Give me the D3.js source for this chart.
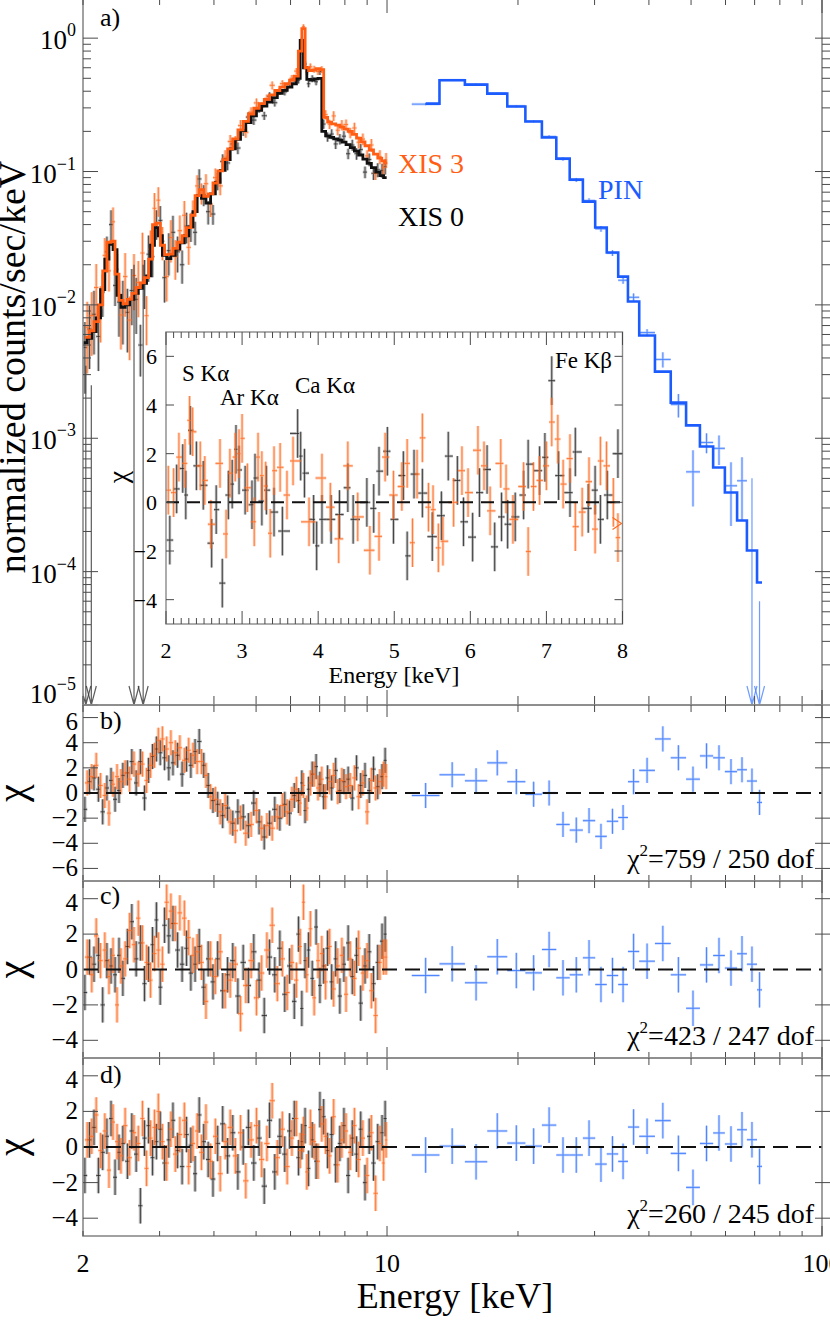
<!DOCTYPE html>
<html>
<head>
<meta charset="utf-8">
<title>XIS + PIN spectrum with residuals</title>
<script src="https://cdn.jsdelivr.net/npm/d3@7"></script>
<style>
body { margin: 0; background: #fff; }
svg text { font-family: "Liberation Serif", "Times New Roman", serif; }
</style>
</head>
<body>
<svg id="chart" width="830" height="1329"></svg>
<script>

// ---- XIS bin centres (keV) ----
var xis0E = [2.02,2.07,2.12,2.17,2.22,2.27,2.32,2.37,2.42,2.47,
             2.53,2.59,2.65,2.71,2.77,2.83,2.89,2.95,3.01,3.08,
             3.15,3.22,3.30,3.38,3.46,3.54,3.62,3.70,3.79,3.88,
             3.98,4.08,4.19,4.30,4.42,4.54,4.67,4.80,4.94,5.08,
             5.22,5.37,5.52,5.67,5.82,5.97,6.12,6.26,6.37,6.48,
             6.60,6.73,6.87,7.01,7.15,7.30,7.46,7.62,7.79,7.96,
             8.14,8.32,8.51,8.70,8.90,9.10,9.31,9.52,9.74,9.90];
var xis3E = [2.045,2.095,2.145,2.195,2.245,2.295,2.345,2.395,2.445,2.50,
             2.56,2.62,2.68,2.74,2.80,2.86,2.92,2.98,3.045,3.115,
             3.185,3.26,3.34,3.42,3.50,3.58,3.66,3.745,3.835,3.93,
             4.03,4.135,4.245,4.36,4.48,4.605,4.735,4.87,5.01,5.15,
             5.295,5.445,5.595,5.745,5.895,6.045,6.19,6.315,6.425,6.54,
             6.665,6.80,6.94,7.08,7.225,7.38,7.54,7.705,7.875,8.05,
             8.23,8.415,8.605,8.80,9.00,9.205,9.415,9.63,9.82,9.95];

// ---- spectrum (counts/sec/keV) ----
var xis0Model = [0.0052,0.0056,0.0063,0.0080,0.0130,0.0220,0.0285,0.0260,0.0118,0.0096,
                 0.0100,0.0110,0.0122,0.0133,0.0145,0.0165,0.0280,0.0380,0.0330,0.0235,
                 0.0222,0.0235,0.0262,0.0292,0.0330,0.0385,0.0500,0.0660,0.0630,0.0580,
                 0.0680,0.0830,0.102,0.123,0.148,0.174,0.203,0.233,0.262,0.287,
                 0.310,0.332,0.358,0.385,0.406,0.430,0.455,0.500,0.960,0.600,
                 0.490,0.485,0.495,0.500,0.200,0.185,0.180,0.176,0.172,0.166,
                 0.159,0.151,0.142,0.133,0.124,0.115,0.107,0.099,0.093,0.090];
var xis3Model = [0.0057,0.0064,0.0075,0.0100,0.0180,0.0295,0.0300,0.0170,0.0108,0.0102,
                 0.0110,0.0122,0.0135,0.0146,0.0160,0.0220,0.0400,0.0410,0.0280,0.0238,
                 0.0240,0.0265,0.0295,0.0330,0.0380,0.0470,0.0660,0.0730,0.0650,0.0680,
                 0.0820,0.101,0.123,0.148,0.176,0.205,0.238,0.270,0.298,0.323,
                 0.348,0.375,0.405,0.430,0.455,0.485,0.520,0.800,1.180,0.600,
                 0.570,0.575,0.590,0.580,0.255,0.235,0.228,0.223,0.215,0.208,
                 0.200,0.190,0.178,0.167,0.156,0.145,0.135,0.126,0.120,0.116];
var xis0Data = [0.0048,0.0066,0.0085,0.0058,0.0125,0.025,0.040,0.014,0.0105,0.0101,
                0.0088,0.0128,0.0110,0.0050,0.0155,0.0240,0.023,0.041,0.043,0.016,
                0.0255,0.035,0.025,0.020,0.039,0.039,0.035,0.088,0.067,0.050,
                0.048,0.085,0.119,0.116,0.161,0.150,0.203,0.256,0.243,0.298,
                0.262,0.367,0.328,0.399,0.396,0.453,0.495,0.483,0.97,0.64,
                0.455,0.497,0.471,0.563,0.227,0.182,0.191,0.161,0.175,0.184,
                0.136,0.158,0.136,0.146,0.099,0.123,0.097,0.103,0.102,0.109];
var xis3Data = [0.0068,0.0083,0.0135,0.0095,0.0235,0.018,0.042,0.0185,0.0084,0.0163,
                0.0077,0.0166,0.0147,0.0245,0.0083,0.0262,0.053,0.061,0.030,0.0163,
                0.032,0.023,0.036,0.047,0.027,0.049,0.078,0.069,0.081,0.057,
                0.090,0.078,0.128,0.168,0.166,0.221,0.197,0.279,0.327,0.306,
                0.353,0.443,0.389,0.456,0.425,0.50,0.566,0.79,1.22,0.558,
                0.61,0.585,0.562,0.582,0.267,0.226,0.261,0.204,0.223,0.225,
                0.195,0.212,0.166,0.175,0.131,0.158,0.097,0.129,0.107,0.122];
// relative 1-sigma error of each XIS bin
var xisErr = [0.55,0.5,0.5,0.45,0.35,0.3,0.28,0.3,0.45,0.5,
              0.5,0.45,0.45,0.42,0.4,0.38,0.3,0.25,0.28,0.35,
              0.35,0.33,0.3,0.28,0.26,0.24,0.2,0.18,0.18,0.2,
              0.17,0.15,0.13,0.12,0.11,0.1,0.09,0.085,0.08,0.075,
              0.07,0.07,0.065,0.06,0.06,0.06,0.055,0.055,0.04,0.05,
              0.06,0.06,0.06,0.06,0.08,0.08,0.085,0.085,0.09,0.09,
              0.09,0.095,0.1,0.1,0.1,0.11,0.11,0.12,0.12,0.13];
// XIS 0 bins shown as upper limits (arrows)
var xis0LimitE = [2.03, 2.09, 2.62, 2.75];
var xis0LimitTop = [0.0035, 0.0025, 0.02, 0.02];

// ---- PIN ----
var pinEdges = [11.4,13.2,15.1,17.0,18.9,20.8,22.7,24.5,26.3,28.2,30.1,32.0,34.0,
                35.8,38.0,41.3,44.9,48.7,52.4,56.2,59.8,63.8,67.2,70.9,72.8];
var pinModel = [0.323,0.483,0.448,0.384,0.307,0.237,0.180,0.125,0.087,0.0595,0.038,0.0247,
                0.0163,0.0106,0.0059,0.00316,0.00185,0.00125,0.000867,0.000603,0.000392,
                0.000242,0.000144,0.0000828];
var pinData = [0.320,0.485,0.450,0.386,0.309,0.238,0.183,0.124,0.0865,0.0605,0.0372,0.0245,
               0.0153,0.0114,0.0062,0.0039,0.00179,0.00056,0.00093,0.00084,0.00044,
               0.00048,0.000245,0.00003];
var pinErr = [0.02,0.015,0.015,0.015,0.02,0.02,0.025,0.03,0.035,0.04,0.05,0.05,
              0.06,0.07,0.06,0.13,0.2,0.45,0.17,0.25,0.5,0.5,1.05,1.0];

// ---- residuals (chi) ----
var xis0ChiB = [-1.3,0.9,1.2,0.3,-1.5,0.4,1.0,-0.5,0.2,1.4,
                1.6,2.5,0.8,2.5,-0.4,1.8,2.9,3.5,3.2,2.8,
                2.0,2.4,3.0,1.5,2.7,2.2,3.3,4.1,2.2,0.6,
                -0.6,-0.9,-1.8,-1.2,-2.4,-1.5,-1.9,-2.6,-0.8,-2.3,
                -3.5,-2.4,-1.3,-2.0,-0.9,-1.6,-0.2,-0.6,0.8,-1.4,
                0.3,1.5,2.1,0.7,-0.3,1.2,0.4,1.8,0.2,0.9,
                1.1,-0.4,2.0,0.6,1.4,0.2,1.9,0.5,1.3,2.6];
var xis3ChiB = [0.8,1.3,2.2,0.6,-0.2,-1.6,0.7,1.3,0.9,1.6,
                1.1,2.3,1.5,2.3,1.0,2.2,3.0,4.2,4.3,3.5,
                4.0,3.2,3.6,2.6,3.4,3.0,2.5,2.5,1.4,-0.3,
                -0.5,-1.5,-1.0,-2.3,-3.0,-2.0,-3.2,-2.5,-1.4,-2.8,
                -2.6,-2.8,-1.9,-1.0,-1.5,-0.5,0.3,-0.8,0.6,-1.2,
                0.8,1.5,0.4,1.1,-0.3,0.9,1.4,0.1,1.0,0.5,
                0.6,1.2,-0.3,0.8,-1.5,1.0,0.4,0.9,1.5,1.3];
var xis0ChiC = [-1.3,0.7,0.3,0.8,-2.0,0.5,0.2,-0.3,0.8,-0.5,
                1.3,2.7,0.6,1.5,-0.8,0.3,1.4,2.8,-1.0,2.5,
                1.9,2.6,1.1,0.3,1.2,-0.2,0.3,1.3,-1.0,0.6,
                -0.7,0.6,-1.2,-0.3,0.5,-1.5,0.4,-0.9,1.0,-0.6,
                -2.6,0.7,-0.3,1.2,-1.4,0.2,-1.8,2.0,-2.2,0.5,
                1.1,-0.5,2.4,-0.9,0.2,1.2,-0.7,0.6,-1.5,0.3,
                1.5,-0.4,0.8,-1.9,0.2,1.0,-0.8,0.4,1.6,2.0];
var xis3ChiC = [0.7,-0.3,1.9,0.5,1.1,-0.4,0.8,-2.0,0.2,0.6,
                2.2,1.4,2.9,1.5,0.4,-0.6,0.9,1.1,0.3,3.8,
                3.3,2.6,3.2,2.9,1.8,0.8,1.0,0.4,-1.8,0.6,
                -0.4,1.0,-1.2,-0.6,0.3,-2.5,-0.9,0.5,-1.6,-0.2,
                1.1,2.5,-0.8,0.6,-1.3,0.4,-0.6,1.3,3.8,-0.3,
                2.3,-1.6,0.5,0.9,-0.7,1.3,-1.1,0.2,0.8,-1.4,
                0.6,-0.5,1.2,-0.2,0.5,-1.2,-2.6,0.4,0.7,0.7];
var xis0ChiD = [-1.6,0.4,1.1,-1.6,-0.3,0.6,1.6,-1.7,-0.3,0.2,
                -0.8,0.9,-0.4,-3.3,0.5,1.2,-0.6,0.3,1.0,-0.9,
                0.4,1.5,-0.2,-1.1,0.7,0.1,-1.5,1.8,0.3,-0.7,
                -1.8,0.2,1.3,-0.5,0.8,-1.4,0.0,1.1,-0.9,0.5,
                -2.2,1.5,-1.4,0.6,-0.4,0.9,1.6,-0.6,0.3,1.2,
                -1.2,0.4,-0.8,2.1,1.7,-0.2,0.7,-1.0,0.2,1.2,
                -1.6,0.5,-0.4,1.0,-2.0,0.6,-0.9,0.3,0.8,1.6];
var xis3ChiD = [0.4,0.6,1.8,-0.2,0.9,-1.3,1.4,0.3,-0.5,1.2,
                -0.6,0.8,0.2,1.6,-1.2,0.5,1.1,2.0,0.3,-0.9,
                1.0,-0.4,0.7,1.5,-1.1,0.2,0.9,-0.3,1.4,-0.8,
                0.6,-1.5,0.3,1.1,-0.5,0.8,-1.9,0.4,1.2,-0.7,
                0.2,2.6,-0.6,1.0,-1.1,0.5,1.6,-0.2,0.7,-1.4,
                1.1,0.3,-0.8,1.3,0.6,-0.5,1.7,-1.0,0.4,0.9,
                -0.3,1.2,-0.7,0.5,-1.6,0.8,-2.6,0.2,-0.9,0.4];
var pinChiB = [-0.2,1.45,0.97,2.4,0.9,-0.1,0.0,-2.5,-2.95,-2.2,-3.45,-2.25,
               -1.95,0.9,1.8,4.3,2.8,1.1,2.95,2.8,1.7,1.85,0.95,-0.75];
var pinChiC = [-0.34,0.32,-0.75,0.72,-0.06,-0.19,1.13,-0.47,-0.3,0.66,-0.85,-0.34,
               -0.85,1.02,0.47,1.47,-0.3,-2.19,0.26,0.79,0.08,0.89,0.3,-1.15];
var pinChiD = [-0.45,0.05,-0.83,0.9,0.22,0.05,1.23,-0.45,-0.45,0.5,-0.96,-0.39,
               -0.81,1.12,0.6,1.48,-0.36,-2.27,0.2,0.79,0.17,0.97,0.41,-1.09];

// ---- inset residuals (2-8 keV, linear) ----
var inset0E = [2.05,2.14,2.22,2.26,2.32,2.40,2.49,2.60,2.66,2.74,2.82,2.87,2.92,2.96,3.04,
               3.13,3.17,3.26,3.32,3.42,3.53,3.73,3.77,3.82,3.94,3.98,4.05,4.17,4.28,4.39,
               4.46,4.64,4.73,4.80,4.91,4.99,5.12,5.17,5.26,5.37,5.50,5.62,5.71,5.83,5.91,
               6.03,6.12,6.22,6.32,6.41,6.49,6.59,6.70,6.76,6.91,6.98,7.07,7.16,7.31,7.38,
               7.55,7.64,7.71,7.80,7.94];
var inset0Chi = [-1.55,0.55,1.39,0.3,2.96,1.5,0.7,-1.68,-0.3,-3.32,0.3,0.75,2.18,1.33,0.5,
                 -0.1,1.0,0.05,0.5,-0.4,-1.18,2.83,1.9,1.2,-0.7,-1.79,-0.7,-0.7,-0.5,0.6,
                 -0.7,0.0,-0.25,1.28,2.1,-0.7,1.1,-2.2,1.16,0.38,-1.41,-0.55,1.9,0.9,-0.8,
                 -1.43,0.4,1.35,-1.83,-0.6,-0.9,-0.6,0.3,1.57,1.3,1.85,5.0,1.1,0.4,2.07,
                 -0.25,0.5,-0.7,0.3,2.0];
var inset3E = [2.03,2.10,2.17,2.25,2.31,2.35,2.45,2.51,2.59,2.71,2.79,2.84,2.91,2.96,3.00,
               3.07,3.16,3.21,3.26,3.31,3.37,3.42,3.50,3.59,3.67,3.88,4.05,4.16,4.27,4.39,
               4.52,4.68,4.80,4.88,4.99,5.10,5.17,5.24,5.30,5.37,5.45,5.51,5.58,5.64,5.78,
               5.89,5.97,6.10,6.18,6.26,6.40,6.47,6.56,6.70,6.76,6.83,6.91,7.00,7.07,7.15,
               7.22,7.31,7.38,7.47,7.56,7.64,7.71,7.79,7.88,7.94];
var inset3Chi = [0.5,0.4,1.86,1.6,3.37,2.9,1.5,0.9,-0.9,1.6,-1.3,1.2,1.86,2.0,2.63,
                 0.6,-0.8,1.86,1.1,0.67,-1.27,1.3,1.44,0.3,1.7,-0.8,1.0,-0.2,-1.5,1.5,
                 -0.6,-1.97,-1.4,1.86,0.3,0.65,1.6,-1.66,1.16,2.65,-0.2,-0.3,-1.87,-1.6,0.0,
                 1.3,0.4,2.14,1.5,-0.35,1.6,0.55,-0.7,0.65,-2.02,0.65,0.9,1.5,3.3,2.6,
                 0.75,1.8,-1.0,-0.4,0.85,-1.1,1.7,1.5,0.0,-1.45];
var inset3OffScale = -0.87;   // XIS 3 point beyond the right edge of the inset

// ---- axes text ----
var xTickValues = [2,3,4,5,6,7,8,9,10,20,30,40,50,60,70,80,90,100];
var xTickLabels = [2, 10, 100];
var decades = [0,-1,-2,-3,-4,-5];
var lineNames = ['S K\u03b1','Ar K\u03b1','Ca K\u03b1','Fe K\u03b2'];
var chiSq = [759, 423, 260];
var dof = [250, 247, 245];
var panelLetters = ['a)','b)','c)','d)'];

// ---------------------------------------------------------------
var svg = d3.select('#chart');
var X0 = 83, X1 = 822;
var x = d3.scaleLog().domain([2, 100]).range([X0, X1]);
var yA = d3.scaleLog().domain([1e-5, 2]).range([705, -2]);

var col = { black: '#262626', orange: '#ff6a1f', orangeLine: '#ff5e14', blue: '#1c5cff', bluePt: '#3f7bff' };
var frameColor = '#8a8a8a', tickColor = '#4a4a4a';

// geometric (log) or arithmetic bin edges from the centres
function binEdges(E, linear) {
  var mids = [];
  for (var i = 0; i < E.length - 1; i++) mids.push(linear ? (E[i] + E[i+1]) / 2 : Math.sqrt(E[i] * E[i+1]));
  var first = linear ? 2 * E[0] - mids[0] : E[0] * E[0] / mids[0];
  var n = E.length - 1;
  var last = linear ? 2 * E[n] - mids[n-1] : E[n] * E[n] / mids[n-1];
  return { lo: [first].concat(mids), hi: mids.concat([last]) };
}

// each cross drawn twice: a soft wide stroke and a thin core
function drawCrosses(parent, pts, color, wide, softOp, coreOp) {
  var g = parent.append('g').attr('stroke', color).attr('fill', 'none');
  [[wide, softOp], [1, coreOp]].forEach(function (L) {
    g.append('g').attr('stroke-width', L[0]).attr('stroke-opacity', L[1])
      .selectAll('path').data(pts).enter().append('path')
      .attr('d', function (p) {
        return 'M' + p.x + ',' + p.y0 + 'V' + p.y1 + 'M' + p.xa + ',' + p.y + 'H' + p.xb;
      });
  });
}

function drawArrow(parent, px, yTop, yBot, color, op) {
  parent.append('path')
    .attr('d', 'M' + px + ',' + yTop + 'V' + yBot + 'M' + (px - 5) + ',' + (yBot - 19) + 'L' + px + ',' + yBot + 'L' + (px + 5) + ',' + (yBot - 19))
    .attr('stroke', color).attr('stroke-width', 1.2).attr('stroke-opacity', op).attr('fill', 'none');
}

var defs = svg.append('defs');
function clipRect(id, x0, y0, w, h) {
  defs.append('clipPath').attr('id', id).append('rect').attr('x', x0).attr('y', y0).attr('width', w).attr('height', h);
  return 'url(#' + id + ')';
}

// x ticks on top and bottom of a panel
function xTicks(top, bottom, minT, majT, minB, majB) {
  var g = svg.append('g').attr('stroke', tickColor).attr('stroke-width', 1);
  xTickValues.forEach(function (t) {
    var px = x(t), major = (t === 10 || t === 100);
    g.append('line').attr('x1', px).attr('x2', px).attr('y1', top).attr('y2', top + (major ? majT : minT));
    g.append('line').attr('x1', px).attr('x2', px).attr('y1', bottom).attr('y2', bottom - (major ? majB : minB));
  });
}

var e0 = binEdges(xis0E), e3 = binEdges(xis3E);

// ================= panel a: spectrum =================
var aTop = -2, aBot = 705;
var gA = svg.append('g').attr('clip-path', clipRect('clipA', X0, aTop, X1 - X0, aBot - aTop));

function specPoints(E, edges, data, err) {
  return E.map(function (e, i) {
    var v = data[i];
    return { x: x(e), xa: x(edges.lo[i]), xb: x(edges.hi[i]), y: yA(v),
             y0: yA(v * (1 + err[i])), y1: yA(Math.max(v * (1 - err[i]), 1e-5)) };
  });
}
drawCrosses(gA, specPoints(xis0E, e0, xis0Data, xisErr), col.black, 3, 0.3, 0.75);
drawCrosses(gA, specPoints(xis3E, e3, xis3Data, xisErr), col.orange, 3, 0.35, 0.8);

xis0LimitE.forEach(function (e, i) { drawArrow(gA, x(e), yA(xis0LimitTop[i]), aBot, '#333', 0.8); });

function stepLine(E, edges, vals) {
  var pts = [[edges.lo[0], vals[0]]];
  E.forEach(function (e, i) { pts.push([e, vals[i]]); });
  pts.push([edges.hi[E.length - 1], vals[vals.length - 1]]);
  return d3.line().x(function (d) { return x(d[0]); }).y(function (d) { return yA(d[1]); }).curve(d3.curveStep)(pts);
}
gA.append('path').attr('d', stepLine(xis0E, e0, xis0Model))
  .attr('fill', 'none').attr('stroke', '#111').attr('stroke-width', 2.8);
gA.append('path').attr('d', stepLine(xis3E, e3, xis3Model))
  .attr('fill', 'none').attr('stroke', col.orangeLine).attr('stroke-width', 2.8);

// PIN
var pinCentre = pinData.map(function (d, i) { return Math.sqrt(pinEdges[i] * pinEdges[i + 1]); });
var pinPts = pinData.map(function (v, i) {
  return { x: x(pinCentre[i]), xa: x(pinEdges[i]), xb: x(pinEdges[i + 1]), y: yA(v),
           y0: yA(v * (1 + pinErr[i])), y1: yA(Math.max(v * (1 - pinErr[i]), 1e-5)) };
});
drawCrosses(gA, pinPts.filter(function (p, i) { return pinErr[i] < 1; }), col.bluePt, 2.6, 0.3, 0.85);
pinData.forEach(function (v, i) {
  if (pinErr[i] >= 1) drawArrow(gA, x(pinCentre[i]), yA(v * (1 + pinErr[i])), aBot, col.bluePt, 0.75);
});
var pinStep = [[pinCentre[0], pinModel[0]]];
pinModel.forEach(function (v, i) { if (i > 0) pinStep.push([pinEdges[i], v]); });
pinStep.push([pinEdges[pinEdges.length - 1], pinModel[pinModel.length - 1]]);
gA.append('path')
  .attr('d', d3.line().x(function (d) { return x(d[0]); }).y(function (d) { return yA(d[1]); }).curve(d3.curveStepAfter)(pinStep))
  .attr('fill', 'none').attr('stroke', col.blue).attr('stroke-width', 2.6);

// frame + ticks of panel a
svg.append('rect').attr('x', X0).attr('y', aTop).attr('width', X1 - X0).attr('height', aBot - aTop)
  .attr('fill', 'none').attr('stroke', frameColor).attr('stroke-width', 1.6);
xTicks(aTop, aBot, 7, 15, 9, 15);
var gYA = svg.append('g').attr('stroke', tickColor).attr('stroke-width', 1);
decades.forEach(function (p) {
  for (var m = 1; m <= 9; m++) {
    var v = m * Math.pow(10, p);
    if (v > 2 || v < 1e-5) continue;
    var py = yA(v), major = (m === 1);
    gYA.append('line').attr('x1', X0).attr('x2', X0 + (major ? 15 : 8)).attr('y1', py).attr('y2', py);
    gYA.append('line').attr('x1', major ? X1 - 7 : X1).attr('x2', X1 + 8).attr('y1', py).attr('y2', py);
  }
  // the bottom label sits just above the panel edge
  var base = p === -5 ? yA(1e-5) - 2 : yA(Math.pow(10, p)) + 11;
  var lab = svg.append('text').attr('x', 76).attr('y', base)
    .attr('text-anchor', 'end').attr('font-size', 27).text('10');
  lab.append('tspan').attr('dy', -13).attr('font-size', 18).text(p === 0 ? '0' : '\u2212' + (-p));
});
svg.append('text').attr('transform', 'translate(25,367) rotate(-90)').attr('text-anchor', 'middle')
  .attr('font-size', 38).text('normalized counts/sec/keV');

svg.append('text').attr('x', 398).attr('y', 173).attr('font-size', 28).attr('fill', col.orangeLine).text('XIS 3');
svg.append('text').attr('x', 398).attr('y', 226).attr('font-size', 28).attr('fill', '#000').text('XIS 0');
svg.append('text').attr('x', 598).attr('y', 199).attr('font-size', 28).attr('fill', col.blue).text('PIN');

// ================= inset =================
var iL = 166, iR = 622.5, iT = 332, iB = 624;
var xIn = d3.scaleLinear().domain([2, 8]).range([iL, iR]);
var yIn = d3.scaleLinear().domain([-5, 7]).range([iB, iT]);
svg.append('rect').attr('x', iL).attr('y', iT).attr('width', iR - iL).attr('height', iB - iT).attr('fill', '#fff');
var gIn = svg.append('g').attr('clip-path', clipRect('clipIn', iL, iT, iR - iL, iB - iT));
function insetPts(E, chi) {
  var ed = binEdges(E, true);
  return E.map(function (e, i) {
    return { x: xIn(e), xa: xIn(ed.lo[i]), xb: xIn(ed.hi[i]), y: yIn(chi[i]), y0: yIn(chi[i] + 1), y1: yIn(chi[i] - 1) };
  });
}
drawCrosses(gIn, insetPts(inset0E, inset0Chi), col.black, 2.8, 0.3, 0.8);
drawCrosses(gIn, insetPts(inset3E, inset3Chi), col.orange, 2.8, 0.35, 0.8);
gIn.append('path').attr('d', 'M' + (iR - 10) + ',' + (yIn(inset3OffScale) - 6) + 'L' + (iR - 1) + ',' + yIn(inset3OffScale) + 'L' + (iR - 10) + ',' + (yIn(inset3OffScale) + 6))
  .attr('fill', 'none').attr('stroke', col.orange).attr('stroke-width', 1.2);
gIn.append('line').attr('x1', iL).attr('x2', iR).attr('y1', yIn(0)).attr('y2', yIn(0))
  .attr('stroke', '#111').attr('stroke-width', 2).attr('stroke-dasharray', '13,8');
svg.append('rect').attr('x', iL).attr('y', iT).attr('width', iR - iL).attr('height', iB - iT)
  .attr('fill', 'none').attr('stroke', frameColor).attr('stroke-width', 1.4);
var gInT = svg.append('g').attr('stroke', tickColor).attr('stroke-width', 1);
xIn.ticks(60).forEach(function (t) {
  var major = Math.abs(t - Math.round(t)) < 1e-6, len = major ? 13 : 6;
  gInT.append('line').attr('x1', xIn(t)).attr('x2', xIn(t)).attr('y1', iT).attr('y2', iT + len);
  gInT.append('line').attr('x1', xIn(t)).attr('x2', xIn(t)).attr('y1', iB).attr('y2', iB - len);
});
xIn.ticks(6).forEach(function (t) {
  svg.append('text').attr('x', xIn(t)).attr('y', 658).attr('text-anchor', 'middle').attr('font-size', 22).text(t);
});
[-4, -2, 0, 2, 4, 6].forEach(function (t) {
  gInT.append('line').attr('x1', iL).attr('x2', iL + 8).attr('y1', yIn(t)).attr('y2', yIn(t));
  gInT.append('line').attr('x1', iR).attr('x2', iR - 8).attr('y1', yIn(t)).attr('y2', yIn(t));
  svg.append('text').attr('x', 157).attr('y', yIn(t) + 8).attr('text-anchor', 'end').attr('font-size', 22)
    .text(t < 0 ? '\u2212' + (-t) : t);
});
svg.append('text').attr('x', 394).attr('y', 683).attr('text-anchor', 'middle').attr('font-size', 24).text('Energy [keV]');
svg.append('text').attr('transform', 'translate(127,477) rotate(-90)').attr('text-anchor', 'middle').attr('font-size', 28).text('\u03c7');
var linePos = [[182, 381], [220, 405], [295, 393], [555, 368]];
lineNames.forEach(function (t, i) {
  svg.append('text').attr('x', linePos[i][0]).attr('y', linePos[i][1]).attr('font-size', 23).text(t);
});

// ================= residual panels =================
var panels = [
  { top: 705, bottom: 881, dom: [-7, 7], ticks: [-6, -4, -2, 2, 4, 6], labels: [-6, -4, -2, 0, 2, 4, 6],
    c0: xis0ChiB, c3: xis3ChiB, pin: pinChiB },
  { top: 881, bottom: 1058, dom: [-5, 5], ticks: [-4, -2, 2, 4], labels: [-4, -2, 0, 2, 4],
    c0: xis0ChiC, c3: xis3ChiC, pin: pinChiC },
  { top: 1058, bottom: 1236, dom: [-5, 5], ticks: [-4, -2, 2, 4], labels: [-4, -2, 0, 2, 4],
    c0: xis0ChiD, c3: xis3ChiD, pin: pinChiD }
];

panels.forEach(function (P, k) {
  var y = d3.scaleLinear().domain(P.dom).range([P.bottom, P.top]);
  var g = svg.append('g').attr('clip-path', clipRect('clipR' + k, X0, P.top, X1 - X0, P.bottom - P.top));
  function resPts(E, edges, chi) {
    return E.map(function (e, i) {
      return { x: x(e), xa: x(edges.lo[i]), xb: x(edges.hi[i]), y: y(chi[i]), y0: y(chi[i] + 1), y1: y(chi[i] - 1) };
    });
  }
  drawCrosses(g, resPts(xis0E, e0, P.c0), col.black, 3.2, 0.33, 0.8);
  drawCrosses(g, resPts(xis3E, e3, P.c3), col.orange, 3.2, 0.38, 0.8);
  var pe = { lo: pinEdges.slice(0, -1), hi: pinEdges.slice(1) };
  drawCrosses(g, resPts(pinCentre, pe, P.pin), col.bluePt, 2.6, 0.3, 0.9);
  g.append('line').attr('x1', X0).attr('x2', X1).attr('y1', y(0)).attr('y2', y(0))
    .attr('stroke', '#111').attr('stroke-width', 2).attr('stroke-dasharray', '15,8');

  svg.append('rect').attr('x', X0).attr('y', P.top).attr('width', X1 - X0).attr('height', P.bottom - P.top)
    .attr('fill', 'none').attr('stroke', frameColor).attr('stroke-width', 1.6);
  if (k < 2) xTicks(P.top, P.bottom, 7, 12, 6, 11);
  else xTicks(P.top, P.bottom, 7, 12, 5, 10);
  var gt = svg.append('g').attr('stroke', tickColor).attr('stroke-width', 1);
  P.ticks.forEach(function (t) {
    gt.append('line').attr('x1', X0).attr('x2', X0 + 15).attr('y1', y(t)).attr('y2', y(t));
    gt.append('line').attr('x1', X1 - 7).attr('x2', X1 + 8).attr('y1', y(t)).attr('y2', y(t));
  });
  P.labels.forEach(function (t, j) {
    // the top label is nudged down a little, away from the panel edge
    var off = (j === P.labels.length - 1) ? 12 : 8;
    svg.append('text').attr('x', 78).attr('y', y(t) + off).attr('text-anchor', 'end').attr('font-size', 25)
      .text(t < 0 ? '\u2212' + (-t) : t);
  });
  svg.append('text').attr('transform', 'translate(25,' + y(0) + ') rotate(-90)').attr('text-anchor', 'middle')
    .attr('font-size', 40).text('\u03c7');
  var cs = svg.append('text').attr('x', 814).attr('y', P.bottom - 13).attr('text-anchor', 'end').attr('font-size', 28).text('\u03c7');
  cs.append('tspan').attr('dy', -12).attr('font-size', 17).text('2');
  cs.append('tspan').attr('dy', 12).text('=' + chiSq[k] + ' / ' + dof[k] + ' dof');
});

// panel letters
[[26], [729], [904], [1083]].forEach(function (p, i) {
  svg.append('text').attr('x', 100).attr('y', p[0]).attr('font-size', 26).text(panelLetters[i]);
});

// bottom axis labels
xTickLabels.forEach(function (t) {
  svg.append('text').attr('x', x(t)).attr('y', 1272).attr('text-anchor', 'middle').attr('font-size', 26).text(t);
});
svg.append('text').attr('x', 455).attr('y', 1308).attr('text-anchor', 'middle').attr('font-size', 36).text('Energy [keV]');

</script>
</body>
</html>
